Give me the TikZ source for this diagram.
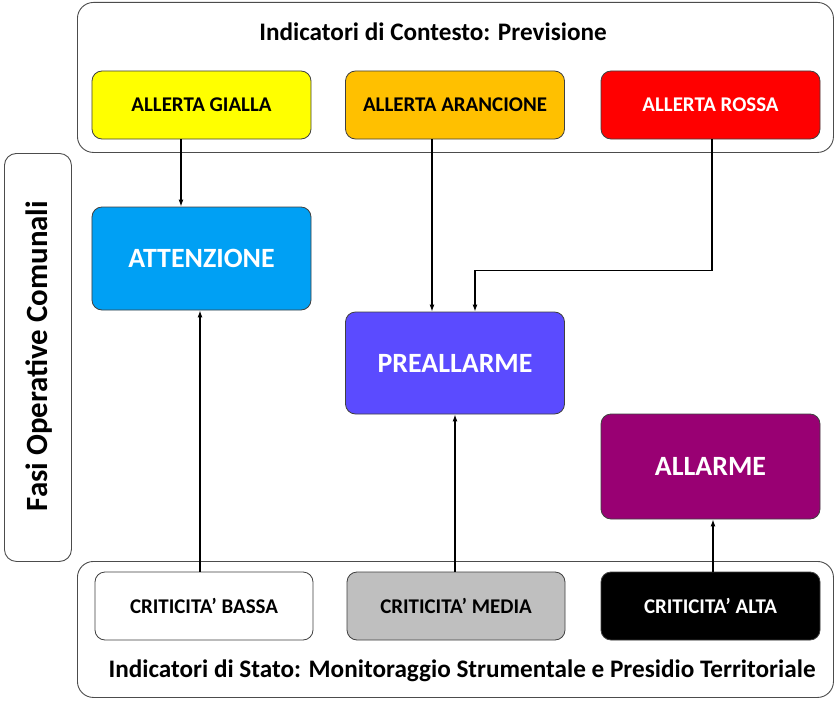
\documentclass[tikz,border=0pt]{standalone}
\usepackage{fontspec}
\setmainfont{Carlito}
\usetikzlibrary{arrows.meta,calc}
\definecolor{cgialla}{HTML}{FFFF00}
\definecolor{carancio}{HTML}{FFC000}
\definecolor{crossa}{HTML}{FF0000}
\definecolor{catt}{HTML}{00A0F4}
\definecolor{cpre}{HTML}{5B4BFF}
\definecolor{call}{HTML}{990073}
\definecolor{cmedia}{HTML}{BFBFBF}
\begin{document}
\begin{tikzpicture}[x=1bp,y=-1bp,
  box/.style={draw=black!75,line width=0.8bp,rounded corners=10bp,inner sep=0pt,
    minimum width=219bp,minimum height=68bp,font=\bfseries\fontsize{21}{24}\selectfont},
  fase/.style={box,minimum height=103bp,font=\bfseries\fontsize{28}{32}\selectfont,text=white},
  outer/.style={draw=black!70,line width=0.9bp,rounded corners=16bp,inner sep=0pt,anchor=north west},
  title/.style={font=\bfseries\fontsize{25.3}{28}\selectfont,inner sep=0pt},
  arr/.style={-{Latex[length=7bp,width=5bp]},line width=1.6bp}]
\useasboundingbox[fill=white] (0,0) rectangle (838,701);
% outer containers
\node[outer,minimum width=756bp,minimum height=150bp] (topbox) at (77,2) {};
\node[outer,minimum width=67bp,minimum height=408bp,rounded corners=12bp] (leftbox) at (4,153) {};
\node[outer,minimum width=756bp,minimum height=136bp] (botbox) at (77,561) {};
% titles
\node[title] (ttop) at (433,32) {Indicatori di Contesto: Previsione};
\node[title] (tbot) at (462,671) {Indicatori di Stato: Monitoraggio Strumentale e Presidio Territoriale};
\node[title,rotate=90,font=\bfseries\fontsize{31}{34}\selectfont] (tleft) at (39,356) {Fasi Operative Comunali};
% alert boxes
\node[box,fill=cgialla] (gialla) at (201.5,105) {ALLERTA GIALLA};
\node[box,fill=carancio] (arancio) at (455,105) {ALLERTA ARANCIONE};
\node[box,fill=crossa,text=white] (rossa) at (710.5,105) {ALLERTA ROSSA};
% phases
\node[fase,fill=catt] (att) at (201.5,258.5) {ATTENZIONE};
\node[fase,fill=cpre,minimum height=102bp] (pre) at (455,363) {PREALLARME};
\node[fase,fill=call,minimum height=105bp] (allarme) at (710.5,466.5) {ALLARME};
% criticality
\node[box,fill=white,minimum width=218bp] (bassa) at (204,606) {CRITICITA’ BASSA};
\node[box,fill=cmedia,minimum width=218bp] (media) at (456,606) {CRITICITA’ MEDIA};
\node[box,fill=black,text=white] (alta) at (710.5,606) {CRITICITA’ ALTA};
% connectors
\draw[arr] ([xshift=-20.5bp]gialla.south) -- ([xshift=-20.5bp]att.north);
\draw[arr] ([xshift=-23bp]arancio.south) -- ([xshift=-23bp]pre.north);
\draw[arr] ([xshift=1.5bp]rossa.south) -- ++(0,131) -| ([xshift=20bp]pre.north);
\draw[arr] ([xshift=-4bp]bassa.north) -- ([xshift=-4bp]bassa.north |- att.south);
\draw[arr] ([xshift=-1bp]media.north) -- ([xshift=-1bp]media.north |- pre.south);
\draw[arr] ([xshift=2.5bp]alta.north) -- ([xshift=2.5bp]alta.north |- allarme.south);
\end{tikzpicture}
\end{document}
